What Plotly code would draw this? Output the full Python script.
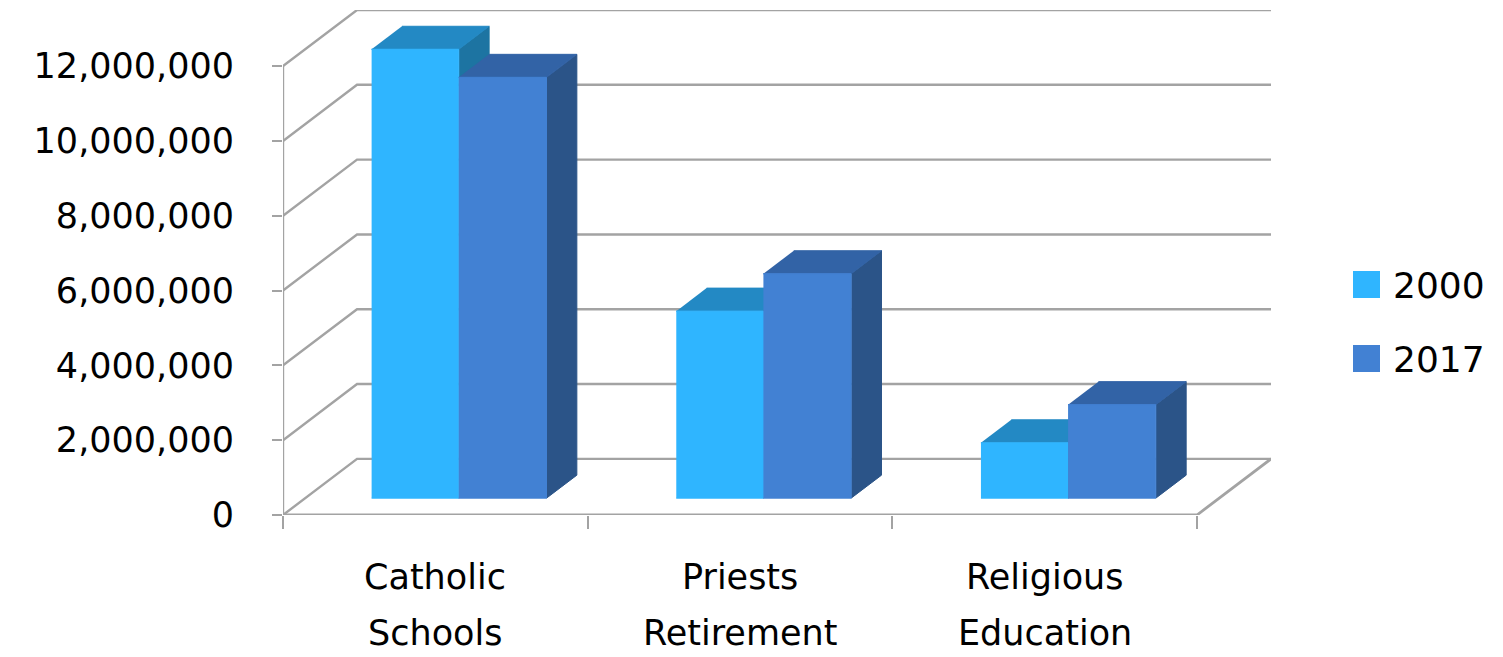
import plotly.graph_objects as go

# ---------------- data ----------------
categories_line1 = ["Catholic", "Priests", "Religious"]
categories_line2 = ["Schools", "Retirement", "Education"]
series_names = ["2000", "2017"]
values_2000 = [12000000, 5000000, 1480000]
values_2017 = [11250000, 6000000, 2500000]
y_tick_values = [0, 2000000, 4000000, 6000000, 8000000, 10000000, 12000000]

# ---------------- style ----------------
front_colors = ["#2FB5FF", "#4281D3"]
top_colors = ["#2389C4", "#3263A6"]
side_colors = ["#1D74A2", "#2B5488"]
grid_color = "#A3A3A3"
FONT = "DejaVu Sans"

# oblique 3D projection parameters (in axis units)
DX = 0.243          # depth shift along category axis
DY = 1500000        # depth shift along value axis
Z0, Z1 = 0.30, 0.71  # bar depth span (fraction of floor depth)
SLOT = [0.218, 0.504, 0.792]  # bar edges inside one category

ymax = y_tick_values[-1]
ncat = len(categories_line1)


def proj(x, v, z):
    return x + z * DX, v + z * DY


fig = go.Figure()


def add_poly(pts, color, width=1.0, fill=True):
    xs = [p[0] for p in pts]
    ys = [p[1] for p in pts]
    fig.add_trace(go.Scatter(
        x=xs, y=ys, mode="lines",
        fill="toself" if fill else None,
        fillcolor=color if fill else None,
        line=dict(color=color, width=width),
        hoverinfo="skip", showlegend=False,
    ))


# ---- walls: gridlines (left wall diagonal + back wall horizontal) ----
for v in y_tick_values:
    pts = [proj(0, v, 0), proj(0, v, 1), proj(ncat, v, 1)]
    add_poly(pts, grid_color, width=2.4, fill=False)

# floor outline (front edge and right edge)
add_poly([proj(0, 0, 0), proj(ncat, 0, 0), proj(ncat, 0, 1)], grid_color, width=2.8, fill=False)
# front value axis line
add_poly([proj(0, 0, 0), proj(0, ymax, 0)], grid_color, width=2.4, fill=False)

# ---- bars ----
series_values = [values_2000, values_2017]
for i in range(ncat):
    for s, vals in enumerate(series_values):
        v = vals[i]
        x0 = i + SLOT[s]
        x1 = i + SLOT[s + 1]
        side = [proj(x1, 0, Z0), proj(x1, 0, Z1), proj(x1, v, Z1), proj(x1, v, Z0)]
        top = [proj(x0, v, Z0), proj(x1, v, Z0), proj(x1, v, Z1), proj(x0, v, Z1)]
        front = [proj(x0, 0, Z0), proj(x1, 0, Z0), proj(x1, v, Z0), proj(x0, v, Z0)]
        add_poly(side, side_colors[s])
        add_poly(top, top_colors[s])
        add_poly(front, front_colors[s])

# ---------------- layout ----------------
# page is offset by the browser's default 8px body margin
OFF = 8
W, H = 1503 - OFF, 657 - OFF
PL, PR, PT, PB = 283, 1271, 10, 515   # plot area in page pixels
ML, MT = PL - OFF, PT - OFF
MR = W - (PR - OFF)
MB = H - (PB - OFF)


def px_x(p):
    return (p - PL) / (PR - PL)


def px_y(p):
    return (PB - p) / (PB - PT)


annotations = []
for i in range(ncat):
    annotations.append(dict(x=i + 0.5, y=0, xref="x", yref="paper", yshift=-62,
                            text=categories_line1[i], showarrow=False,
                            xanchor="center", yanchor="middle",
                            font=dict(family=FONT, size=35, color="#000000")))
    annotations.append(dict(x=i + 0.5, y=0, xref="x", yref="paper", yshift=-118,
                            text=categories_line2[i], showarrow=False,
                            xanchor="center", yanchor="middle",
                            font=dict(family=FONT, size=35, color="#000000")))

# legend (manual, to match square swatches)
shapes = []
legend_rows = [284.5, 358.5]
for s, name in enumerate(series_names):
    cy = legend_rows[s]
    shapes.append(dict(type="rect", xref="paper", yref="paper",
                       x0=px_x(1353), x1=px_x(1380), y0=px_y(cy + 13.5), y1=px_y(cy - 13.5),
                       fillcolor=front_colors[s], line=dict(width=0)))
    annotations.append(dict(x=px_x(1391), y=px_y(cy + 1), xref="paper", yref="paper",
                            text=name, showarrow=False, xanchor="left", yanchor="middle",
                            font=dict(family=FONT, size=36, color="#000000")))

fig.update_layout(
    width=W, height=H, autosize=False,
    margin=dict(l=ML, r=MR, t=MT, b=MB, pad=0),
    paper_bgcolor="white", plot_bgcolor="white",
    showlegend=False,
    annotations=annotations, shapes=shapes,
    xaxis=dict(range=[0, ncat + DX], tickvals=list(range(ncat + 1)),
               ticktext=[""] * (ncat + 1), ticks="outside", ticklen=13,
               tickwidth=2.4, tickcolor=grid_color,
               showgrid=False, zeroline=False, showline=False, fixedrange=True),
    yaxis=dict(range=[0, ymax + DY], tickvals=y_tick_values, tickformat=",d",
               ticks="outside", ticklen=10, tickwidth=2.4, tickcolor=grid_color,
               ticklabelstandoff=31,
               tickfont=dict(family=FONT, size=35, color="#000000"),
               showgrid=False, zeroline=False, showline=False, fixedrange=True),
)

fig.write_html("out.html")
